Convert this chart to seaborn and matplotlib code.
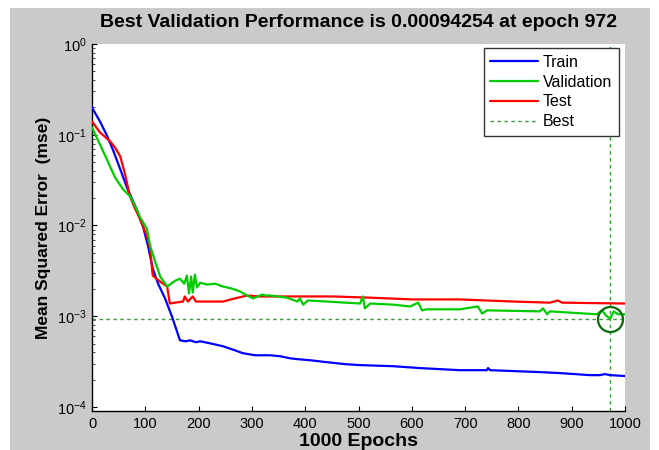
import numpy as np
import pandas as pd
import matplotlib
matplotlib.use("Agg")
import matplotlib.pyplot as plt
from matplotlib.patches import Rectangle
from matplotlib.lines import Line2D
import seaborn as sns

# ---- data ----
train_epoch = [0, 15, 28, 39, 53, 66, 81, 96, 105, 114, 124, 137, 150, 165, 176, 184, 195, 203,
               221, 246, 268, 283, 306, 334, 353, 371, 385, 409, 441, 475, 503, 565, 615, 690,
               741, 743, 747, 840, 878, 934, 953, 962, 972, 1000]
train_mse = [0.199, 0.140, 0.098, 0.0689, 0.0416, 0.0258, 0.0164, 0.00963, 0.00596, 0.00334,
             0.00228, 0.00157, 0.000994, 0.000542, 0.000529, 0.000542, 0.000516, 0.000529,
             0.000503, 0.000466, 0.000421, 0.000391, 0.000371, 0.000371, 0.000362, 0.000344,
             0.000336, 0.000327, 0.000311, 0.000296, 0.000289, 0.000281, 0.000268, 0.000254,
             0.000254, 0.000268, 0.000254, 0.000242, 0.000236, 0.000224, 0.000224, 0.000230,
             0.000224, 0.000219]

val_epoch = [0, 21, 43, 58, 71, 81, 90, 103, 109, 118, 128, 141, 156, 165, 173, 178, 182, 186,
             189, 193, 197, 203, 216, 231, 246, 263, 278, 291, 302, 311, 319, 326, 334, 366,
             385, 390, 396, 405, 441, 475, 503, 508, 512, 522, 565, 597, 612, 619, 628, 690,
             724, 732, 741, 840, 846, 854, 859, 947, 957, 964, 972, 979, 987, 1000]
val_mse = [0.120, 0.0655, 0.0340, 0.0251, 0.0211, 0.0164, 0.0124, 0.00915, 0.00596, 0.00408,
           0.00273, 0.00212, 0.00246, 0.00259, 0.00228, 0.00280, 0.00178, 0.00273, 0.00182,
           0.00287, 0.00207, 0.00234, 0.00223, 0.00228, 0.00212, 0.00201, 0.00187, 0.00169,
           0.00157, 0.00165, 0.00173, 0.00169, 0.00169, 0.00160, 0.00145, 0.00157, 0.00134,
           0.00149, 0.00145, 0.00141, 0.00138, 0.00165, 0.00122, 0.00138, 0.00134, 0.00128,
           0.00141, 0.00116, 0.00119, 0.00119, 0.00128, 0.00107, 0.00116, 0.00113, 0.00122,
           0.00105, 0.00113, 0.00105, 0.00116, 0.00102, 0.00094254, 0.00113, 0.00105, 0.00105]

test_epoch = [0, 15, 34, 43, 53, 62, 71, 81, 90, 103, 109, 114, 128, 141, 146, 156, 171, 174,
              180, 189, 195, 246, 268, 291, 315, 452, 522, 602, 690, 790, 859, 874, 882, 996, 1000]
test_mse = [0.140, 0.106, 0.0843, 0.0725, 0.0578, 0.0367, 0.0211, 0.0152, 0.0118, 0.00767,
            0.00553, 0.00280, 0.00240, 0.00212, 0.00138, 0.00141, 0.00145, 0.00165, 0.00145,
            0.00165, 0.00145, 0.00145, 0.00157, 0.00169, 0.00165, 0.00165, 0.00160, 0.00153,
            0.00153, 0.00145, 0.00141, 0.00149, 0.00141, 0.00138, 0.00138]

best_epoch = 972
best_perf = 0.00094254
x_ticks = [0, 100, 200, 300, 400, 500, 600, 700, 800, 900, 1000]
title_text = "Best Validation Performance is 0.00094254 at epoch 972"
x_label = "1000 Epochs"
y_label = "Mean Squared Error  (mse)"

# ---- style ----
sns.set_style("white")
plt.rcParams["font.family"] = ["Liberation Sans", "DejaVu Sans"]
plt.rcParams["mathtext.fontset"] = "custom"
plt.rcParams["mathtext.rm"] = "Liberation Sans"
plt.rcParams["mathtext.it"] = "Liberation Sans:italic"
plt.rcParams["mathtext.bf"] = "Liberation Sans:bold"
plt.rcParams["text.color"] = "black"
plt.rcParams["axes.labelcolor"] = "black"

fig = plt.figure(figsize=(6.59, 4.5), dpi=100)
fig.patch.set_facecolor("white")
fig.patches.append(Rectangle((10 / 659, 0), (650 - 10) / 659, (450 - 8) / 450,
                             transform=fig.transFigure, facecolor="#cacaca",
                             edgecolor="none", zorder=-10))

ax = fig.add_axes([92 / 659, 1 - 411 / 450, 533 / 659, (411 - 44) / 450])
ax.set_facecolor("white")

df_train = pd.DataFrame({"epoch": train_epoch, "mse": train_mse})
df_val = pd.DataFrame({"epoch": val_epoch, "mse": val_mse})
df_test = pd.DataFrame({"epoch": test_epoch, "mse": test_mse})

lw = 1.6
sns.lineplot(data=df_train, x="epoch", y="mse", ax=ax, color="#0000ff", lw=lw,
             estimator=None, sort=False, zorder=3)
sns.lineplot(data=df_val, x="epoch", y="mse", ax=ax, color="#00cc00", lw=lw,
             estimator=None, sort=False, zorder=4)
sns.lineplot(data=df_test, x="epoch", y="mse", ax=ax, color="#ff0000", lw=lw,
             estimator=None, sort=False, zorder=3)

best_col = "#3a9a3a"
ax.axhline(best_perf, color=best_col, lw=1.0, ls=(0, (2.5, 2.5)), zorder=2)
ax.axvline(best_epoch, color=best_col, lw=1.0, ls=(0, (2.5, 2.5)), zorder=2)
ax.plot([best_epoch], [best_perf], marker="o", ms=18, mfc="none", mec="#0a6a0a",
        mew=1.6, ls="none", zorder=5)

ax.set_yscale("log")
ax.set_xlim(0, 1000)
ax.set_ylim(10 ** -4.045, 1)
ax.set_xticks(x_ticks)
ax.set_xticklabels([str(t) for t in x_ticks])
ax.set_yticks([1e-4, 1e-3, 1e-2, 1e-1, 1e0])
ax.yaxis.set_minor_locator(matplotlib.ticker.LogLocator(base=10, subs=np.arange(2, 10)))
ax.yaxis.set_minor_formatter(matplotlib.ticker.NullFormatter())

ax.tick_params(axis="both", which="major", direction="in", length=3.5, width=0.8,
               labelsize=10.5, colors="black", pad=4, left=True, bottom=True)
ax.tick_params(axis="y", which="minor", direction="in", length=2, width=0.6, left=True)
for s in ax.spines.values():
    s.set_color("black")
    s.set_linewidth(1.0)
ax.spines["top"].set_visible(False)
ax.spines["right"].set_visible(False)

ax.set_title(title_text, fontsize=14, fontweight="bold", pad=12, color="black")
ax.set_xlabel(x_label, fontsize=14, fontweight="bold", labelpad=2)
ax.set_ylabel(y_label, fontsize=12.5, fontweight="bold", labelpad=4)

handles = [Line2D([], [], color="#0000ff", lw=lw),
           Line2D([], [], color="#00cc00", lw=lw),
           Line2D([], [], color="#ff0000", lw=lw),
           Line2D([], [], color=best_col, lw=1.0, ls=(0, (2.5, 2.5)))]
leg = ax.legend(handles, ["Train", "Validation", "Test", "Best"], loc="upper right",
                bbox_to_anchor=(0.988, 0.988), borderaxespad=0, fontsize=11.5,
                handlelength=3.0, handletextpad=0.3, labelspacing=0.3,
                borderpad=0.4, fancybox=False, framealpha=1, edgecolor="#333333")
leg.get_frame().set_linewidth(1.0)

fig.savefig("out.png", dpi=100, facecolor=fig.get_facecolor())
